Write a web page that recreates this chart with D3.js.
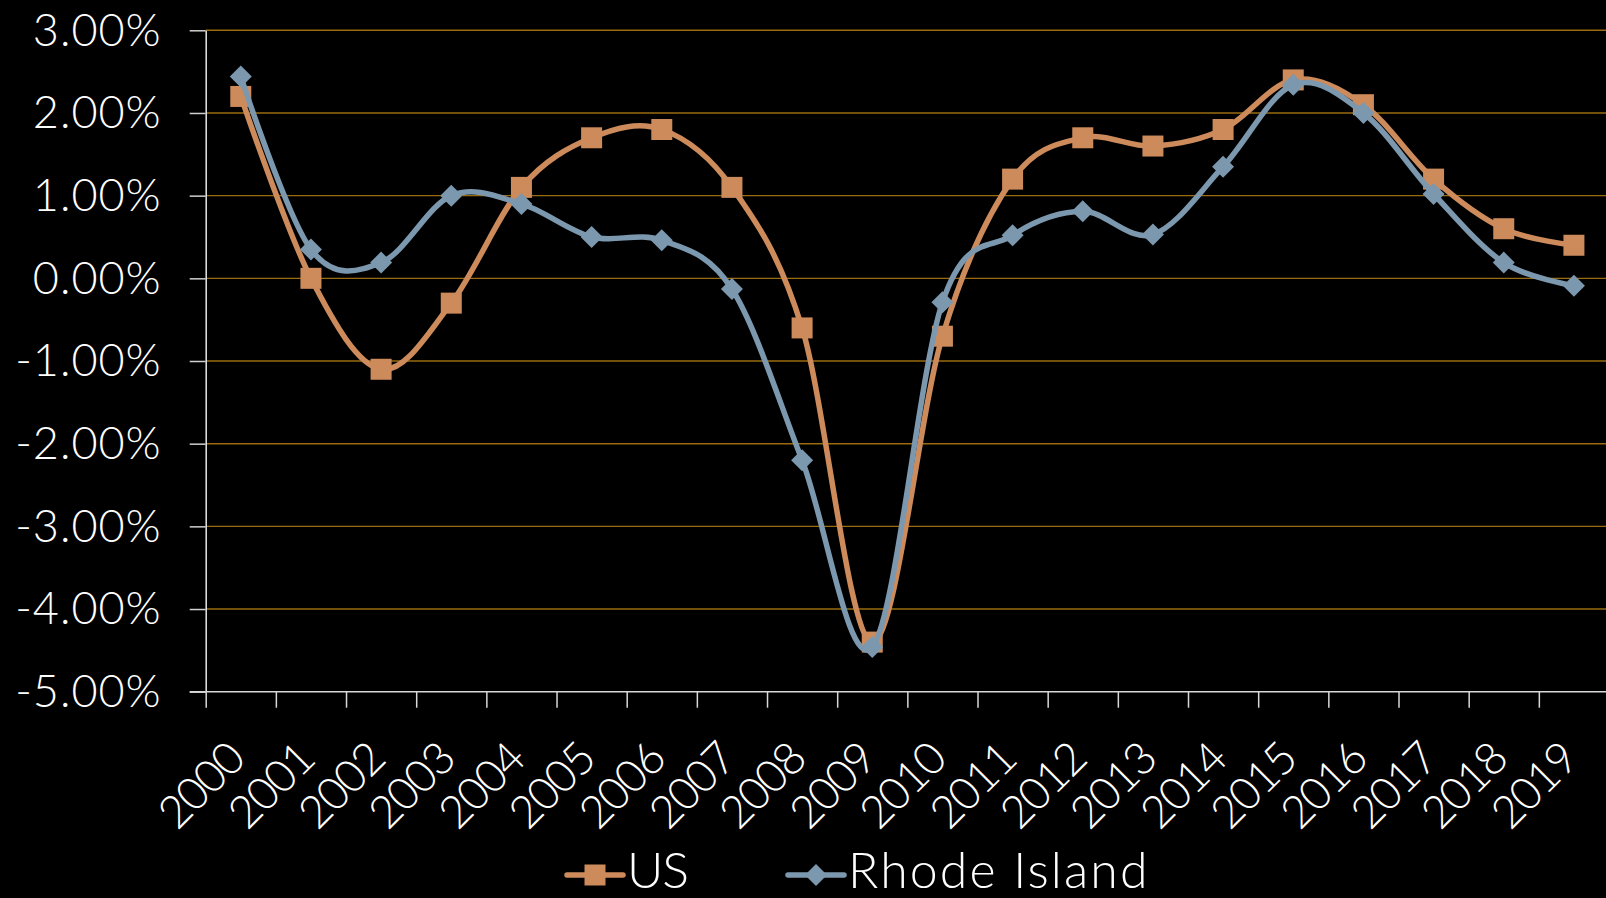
<!DOCTYPE html>
<html>
<head>
<meta charset="utf-8">
<script src="https://cdn.jsdelivr.net/npm/d3@7/dist/d3.min.js"></script>
<style>
  html, body { margin: 0; padding: 0; background: #000; overflow: hidden; }
  svg { display: block; }
  text { font-family: Lato, "Open Sans", sans-serif; font-weight: 300; fill: #fff; }
</style>
</head>
<body>
<svg id="chart" width="1606" height="898"></svg>
<script>
// Annual job growth, 2000-2019
const years = ['2000','2001','2002','2003','2004','2005','2006','2007','2008','2009',
               '2010','2011','2012','2013','2014','2015','2016','2017','2018','2019'];
const usValues = [2.2, 0.0, -1.1, -0.3, 1.1, 1.7, 1.8, 1.1, -0.6, -4.4,
                  -0.7, 1.2, 1.7, 1.6, 1.8, 2.4, 2.1, 1.2, 0.6, 0.4];
const riValues = [2.44, 0.35, 0.19, 1.0, 0.9, 0.5, 0.46, -0.13, -2.2, -4.46,
                  -0.29, 0.52, 0.81, 0.53, 1.35, 2.34, 2.0, 1.02, 0.19, -0.09];
const yTicks = [3, 2, 1, 0, -1, -2, -3, -4, -5];
const seriesNames = ['US', 'Rhode Island'];

const usColor = '#cd8b5c';
const riColor = '#7c98ae';
const gridColor = '#9a6b10';

const svg = d3.select('#chart');
const W = 1606;

const plotLeft = 205.7, plotRight = 1609, plotTop = 30.3, plotBottom = 691.7;

const x = d3.scaleBand().domain(years).range([plotLeft, plotRight]).padding(0);
const y = d3.scaleLinear().domain([-5, 3]).range([plotBottom, plotTop]);
const cx = d => x(d) + x.bandwidth() / 2;

// horizontal gridlines
svg.append('g').selectAll('line')
  .data(yTicks.filter(t => t !== -5))
  .join('line')
  .attr('x1', plotLeft).attr('x2', W)
  .attr('y1', d => y(d)).attr('y2', d => y(d))
  .attr('stroke', gridColor).attr('stroke-width', 1.4);

// y axis
const yAxis = d3.axisLeft(y)
  .tickValues(yTicks)
  .tickSize(16)
  .tickSizeOuter(0)
  .tickPadding(28)
  .tickFormat(d => d.toFixed(2) + '%');
const gy = svg.append('g').attr('transform', `translate(${plotLeft},0)`).call(yAxis);
gy.select('.domain').attr('stroke', '#e8e8e8').attr('stroke-width', 1.5);
gy.selectAll('.tick line').attr('stroke', '#d0d0d0').attr('stroke-width', 1.5);
gy.selectAll('.tick text')
  .attr('font-size', 45).attr('fill', '#fff')
  .attr('font-family', 'Lato, "Open Sans", sans-serif')
  .attr('font-weight', 300)
  .attr('letter-spacing', 1)
  .attr('dy', '0.33em');

// x axis: tick marks sit between categories
const xEdges = d3.scaleLinear().domain([0, years.length]).range([plotLeft, plotRight]);
const xAxis = d3.axisBottom(xEdges)
  .tickValues(d3.range(0, years.length + 1))
  .tickSize(16)
  .tickSizeOuter(0)
  .tickFormat('');
const gx = svg.append('g').attr('transform', `translate(0,${plotBottom})`).call(xAxis);
gx.select('.domain').attr('stroke', 'none');
gx.selectAll('.tick line').attr('stroke', '#d8d8d8').attr('stroke-width', 1.5);
svg.append('line')
  .attr('x1', plotLeft - 16).attr('x2', W)
  .attr('y1', plotBottom).attr('y2', plotBottom)
  .attr('stroke', '#d8d8d8').attr('stroke-width', 1.5);

// rotated year labels
svg.append('g').selectAll('text')
  .data(years)
  .join('text')
  .attr('transform', d => `translate(${cx(d) + 6},${plotBottom + 70}) rotate(-45)`)
  .attr('text-anchor', 'end')
  .attr('font-size', 45)
  .attr('letter-spacing', -1.5)
  .text(d => d);

// series lines
const line = d3.line()
  .x((d, i) => cx(years[i]))
  .y(d => y(d))
  .curve(d3.curveCardinal.tension(0));

function drawSeries(values, color, marker) {
  const g = svg.append('g');
  g.append('path')
    .datum(values)
    .attr('d', line)
    .attr('fill', 'none')
    .attr('stroke', color)
    .attr('stroke-width', 5.5)
    .attr('stroke-linejoin', 'round');
  g.selectAll('path.m')
    .data(values)
    .join('path')
    .attr('class', 'm')
    .attr('transform', (d, i) => `translate(${cx(years[i])},${y(d)})`)
    .attr('d', marker)
    .attr('fill', color);
}

const squareMarker = d3.symbol().type(d3.symbolSquare).size(21 * 21)();
const diamondMarker = 'M0,-11L11,0L0,11L-11,0Z';

drawSeries(usValues, usColor, squareMarker);
drawSeries(riValues, riColor, diamondMarker);

// legend
const legend = svg.append('g');
const legendItems = [
  { name: seriesNames[0], color: usColor, marker: squareMarker, x0: 567, spacing: -1 },
  { name: seriesNames[1], color: riColor, marker: diamondMarker, x0: 788, spacing: 2.1 }
];
const legendY = 875;
legendItems.forEach(it => {
  legend.append('line')
    .attr('x1', it.x0).attr('x2', it.x0 + 56)
    .attr('y1', legendY).attr('y2', legendY)
    .attr('stroke', it.color).attr('stroke-width', 5.5)
    .attr('stroke-linecap', 'round');
  legend.append('path')
    .attr('transform', `translate(${it.x0 + 28},${legendY})`)
    .attr('d', it.marker)
    .attr('fill', it.color);
  legend.append('text')
    .attr('x', it.x0 + 60)
    .attr('y', 888)
    .attr('font-size', 50)
    .attr('letter-spacing', it.spacing)
    .text(it.name);
});
</script>
</body>
</html>
